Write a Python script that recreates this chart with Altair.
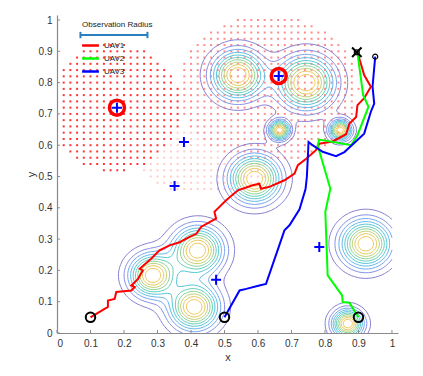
import numpy as np
import pandas as pd
import altair as alt

# ---------------- data ----------------
# Gaussian "targets" (contour peaks): centre x, centre y, spread
peak_x = [0.285, 0.420, 0.410, 0.868, 0.922, 0.590, 0.664, 0.846, 0.540, 0.744]
peak_y = [0.184, 0.264, 0.083, 0.030, 0.285, 0.493, 0.648, 0.648, 0.824, 0.800]
peak_s = [0.045, 0.049, 0.048, 0.030, 0.049, 0.050, 0.020, 0.021, 0.050, 0.055]
contour_levels = [0.08, 0.17, 0.26, 0.35, 0.44, 0.53, 0.62, 0.71, 0.80, 0.89]
contour_colors = ["#8a80d0", "#8790e4", "#76a6f0", "#62bbea", "#55c7d8",
                  "#66cfba", "#8fd397", "#bfd276", "#e6c95f", "#f2c95a"]

# unexplored-probability dot regions: centre x, centre y, radius x, radius y, opacity
dot_cx = [0.17, 0.63, 0.45]
dot_cy = [0.72, 0.78, 0.55]
dot_rx = [0.205, 0.27, 0.20]
dot_ry = [0.205, 0.24, 0.11]
dot_op = [0.8, 0.45, 0.2]
dot_step = 0.02

uav1_x = [0.100, 0.142, 0.152, 0.152, 0.172, 0.177, 0.222, 0.232, 0.222, 0.242, 0.256, 0.247,
          0.281, 0.306, 0.336, 0.366, 0.396, 0.416, 0.430, 0.465, 0.475, 0.470, 0.485, 0.505,
          0.540, 0.584, 0.604, 0.609, 0.634, 0.679, 0.709, 0.719, 0.744, 0.773, 0.783, 0.823,
          0.863, 0.873, 0.893, 0.897, 0.917, 0.937, 0.917, 0.907, 0.897]
uav1_y = [0.050, 0.077, 0.083, 0.104, 0.109, 0.131, 0.136, 0.147, 0.152, 0.173, 0.200, 0.205,
          0.237, 0.264, 0.280, 0.290, 0.307, 0.317, 0.339, 0.360, 0.365, 0.387, 0.403, 0.424,
          0.456, 0.472, 0.477, 0.461, 0.467, 0.488, 0.509, 0.536, 0.557, 0.584, 0.605, 0.612,
          0.635, 0.669, 0.690, 0.728, 0.750, 0.787, 0.824, 0.861, 0.895]
uav2_x = [0.900, 0.873, 0.853, 0.851, 0.808, 0.801, 0.816, 0.778, 0.783, 0.878, 0.897, 0.930, 0.914, 0.897]
uav2_y = [0.050, 0.097, 0.099, 0.120, 0.184, 0.387, 0.461, 0.600, 0.618, 0.600, 0.632, 0.723, 0.760, 0.895]
uav3_x = [0.500, 0.545, 0.565, 0.604, 0.624, 0.679, 0.694, 0.724, 0.742, 0.746, 0.751, 0.763,
          0.793, 0.833, 0.858, 0.917, 0.937, 0.947, 0.942, 0.950]
uav3_y = [0.050, 0.136, 0.141, 0.152, 0.157, 0.328, 0.344, 0.395, 0.460, 0.500, 0.610, 0.600,
          0.579, 0.565, 0.578, 0.637, 0.707, 0.733, 0.787, 0.883]

plus_x = [0.179, 0.662, 0.379, 0.351, 0.475, 0.783]
plus_y = [0.720, 0.821, 0.610, 0.470, 0.170, 0.275]
ring_x = [0.179, 0.662]
ring_y = [0.720, 0.821]
start_x = [0.10, 0.50, 0.90]
start_y = [0.05, 0.05, 0.05]
end_x = [0.895, 0.950]
end_y = [0.897, 0.883]
cross_x = [0.895]
cross_y = [0.897]

obs_radius = 0.2
obs_x0 = 0.07
obs_y = 0.952
obs_label = "Observation Radius"
obs_label_x = 0.075
obs_label_y = 0.985

ticks = [0, 0.1, 0.2, 0.3, 0.4, 0.5, 0.6, 0.7, 0.8, 0.9, 1]

# ---------------- derived tables ----------------
gx = np.linspace(0, 1, 101)
gy = np.linspace(0, 1, 101)
GX, GY = np.meshgrid(gx, gy)
Z = np.zeros_like(GX)
for px, py, ps in zip(peak_x, peak_y, peak_s):
    Z += np.exp(-((GX - px) ** 2 + (GY - py) ** 2) / (2 * ps ** 2))


def march(Z, gx, gy, L):
    segs = []
    a = Z[:-1, :-1]; b = Z[:-1, 1:]; c = Z[1:, 1:]; d = Z[1:, :-1]
    mn = np.minimum(np.minimum(a, b), np.minimum(c, d))
    mx = np.maximum(np.maximum(a, b), np.maximum(c, d))
    for j, i in np.argwhere((mn < L) & (mx >= L)):
        cs = [(gx[i], gy[j], Z[j, i]), (gx[i + 1], gy[j], Z[j, i + 1]),
              (gx[i + 1], gy[j + 1], Z[j + 1, i + 1]), (gx[i], gy[j + 1], Z[j + 1, i])]
        pts = []
        for k in range(4):
            x0, y0, v0 = cs[k]
            x1, y1, v1 = cs[(k + 1) % 4]
            if (v0 >= L) != (v1 >= L):
                t = (L - v0) / (v1 - v0)
                pts.append((x0 + t * (x1 - x0), y0 + t * (y1 - y0)))
        if len(pts) == 2:
            segs.append(pts[0] + pts[1])
        elif len(pts) == 4:
            segs.append(pts[0] + pts[1])
            segs.append(pts[2] + pts[3])
    return segs


rows = []
for li, L in enumerate(contour_levels):
    for s in march(Z, gx, gy, L):
        rows.append({"x": s[0], "y": s[1], "x2": s[2], "y2": s[3], "lvl": li})
contour_df = pd.DataFrame(rows)

dgx = np.round(np.arange(dot_step, 1.0 + 1e-9, dot_step), 3)
drows = []
for xv in dgx:
    for yv in dgx:
        op = 0.0
        for cx, cy, rx, ry, o in zip(dot_cx, dot_cy, dot_rx, dot_ry, dot_op):
            if ((xv - cx) / rx) ** 2 + ((yv - cy) / ry) ** 2 <= 1.0:
                op = max(op, o)
        if op > 0:
            drows.append({"x": xv, "y": yv, "op": op})
dots_df = pd.DataFrame(drows)

path_rows = []
for name, xs, ys in [("UAV1", uav1_x, uav1_y), ("UAV2", uav2_x, uav2_y), ("UAV3", uav3_x, uav3_y)]:
    for k, (xv, yv) in enumerate(zip(xs, ys)):
        path_rows.append({"x": xv, "y": yv, "uav": name, "k": k})
path_df = pd.DataFrame(path_rows)

# ---------------- chart ----------------
W, H = 341, 318
FONT = "Liberation Sans"
xscale = alt.Scale(domain=[0, 1.018], nice=False, zero=False)
yscale = alt.Scale(domain=[0, 1.016], nice=False, zero=False)
ax_common = dict(values=ticks, format="~g", tickSize=0, grid=False, labelFontSize=10,
                 labelColor="#333333", labelFont=FONT, domainColor="#8a8a8a", domainWidth=1.2,
                 titleFont=FONT, titleFontSize=11, titleFontWeight="normal", titleColor="#333333",
                 labelPadding=5)
XAX = alt.Axis(title="x", titlePadding=3, **ax_common)
YAX = alt.Axis(title="y", titleX=-26, titleY=H / 2, titleBaseline="middle", **ax_common)
X = alt.X("x:Q", scale=xscale, axis=XAX, title="x")
Y = alt.Y("y:Q", scale=yscale, axis=YAX, title="y")

dots = alt.Chart(dots_df).mark_square(size=4, color="#ff0000").encode(
    x=X, y=Y, opacity=alt.Opacity("op:Q", scale=None, legend=None))

contours = alt.Chart(contour_df).mark_rule(strokeWidth=1).encode(
    x=X, y=Y, x2="x2:Q", y2="y2:Q",
    color=alt.Color("lvl:O", scale=alt.Scale(domain=list(range(len(contour_levels))),
                                             range=contour_colors), legend=None),
)

tick_df = pd.DataFrame({"x": ticks, "y": ticks})
xt = alt.Chart(tick_df).mark_rule(color="#8a8a8a", strokeWidth=1).encode(
    x=X, y=alt.value(H), y2=alt.value(H - 3))
yt = alt.Chart(tick_df).mark_rule(color="#8a8a8a", strokeWidth=1).encode(
    y=Y, x=alt.value(0), x2=alt.value(3))

obs_df = pd.DataFrame({"x": [obs_x0], "x2": [obs_x0 + obs_radius], "y": [obs_y]})
obs_bar = alt.Chart(obs_df).mark_rule(color="#2a7fc0", strokeWidth=2).encode(x=X, x2="x2:Q", y=Y)
caps_df = pd.DataFrame({"x": [obs_x0, obs_x0 + obs_radius], "y": [obs_y, obs_y]})
obs_caps = alt.Chart(caps_df).mark_point(shape="M0,-1L0,1", size=40, color="#2a7fc0",
                                         strokeWidth=2, opacity=1).encode(x=X, y=Y)
obs_text = alt.Chart(pd.DataFrame({"x": [obs_label_x], "y": [obs_label_y], "t": [obs_label]})).mark_text(
    align="left", baseline="middle", fontSize=8, font=FONT, color="#222222").encode(x=X, y=Y, text="t:N")

paths = alt.Chart(path_df).mark_line(strokeWidth=2).encode(
    x=X, y=Y, order="k:Q",
    color=alt.Color("uav:N",
                    scale=alt.Scale(domain=["UAV1", "UAV2", "UAV3"],
                                    range=["#ff0000", "#00ff00", "#0000ff"]),
                    legend=alt.Legend(orient="none", legendX=26, legendY=23, title=None,
                                      symbolType="M-1.4,0L1.4,0", symbolSize=144,
                                      symbolStrokeWidth=2.5,
                                      labelFontSize=8, labelFont=FONT, labelColor="#222222",
                                      padding=0, rowPadding=0, labelOffset=6, symbolOffset=0)),
)


def pts(xs, ys, **mk):
    return alt.Chart(pd.DataFrame({"x": xs, "y": ys})).mark_point(**mk).encode(x=X, y=Y)


rings = pts(ring_x, ring_y, shape="circle", filled=False, size=225, color="#ff0000", strokeWidth=3.5,
            opacity=1)
pluses = pts(plus_x, plus_y, shape="M-1,0L1,0M0,-1L0,1", size=100, color="#0000ff", strokeWidth=2,
             opacity=1)
starts = pts(start_x, start_y, shape="circle", filled=False, size=90, color="#000000", strokeWidth=2,
             opacity=1)
ends = pts(end_x, end_y, shape="circle", filled=False, size=25, color="#000000", strokeWidth=1.2,
           opacity=1)
crosses = pts(cross_x, cross_y, shape="M-1,-1L1,1M-1,1L1,-1", size=90, color="#000000",
              strokeWidth=2, opacity=1)

chart = alt.layer(
    dots, contours, xt, yt, obs_bar, obs_caps, obs_text, paths, rings, pluses, starts, ends, crosses
).resolve_scale(color="independent", opacity="independent").properties(
    width=W, height=H,
    autosize=alt.AutoSizeParams(type="none"),
    padding={"left": 49, "top": 7, "right": 10, "bottom": 40},
    background="white",
).configure_view(stroke=None)

chart.save("out.html", embed_options={"renderer": "svg", "actions": False})
